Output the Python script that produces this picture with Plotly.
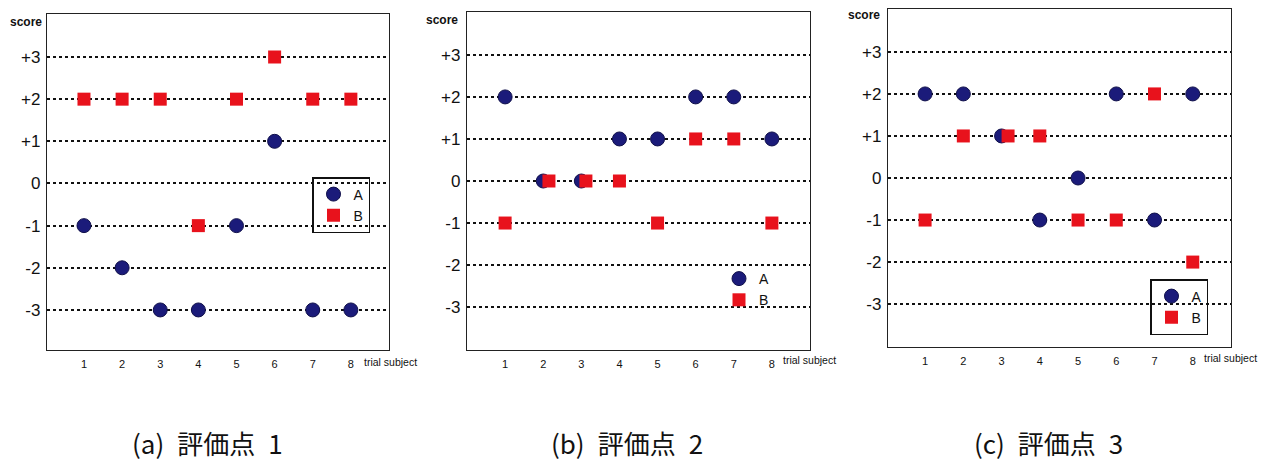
import plotly.graph_objects as go

subjects = [1, 2, 3, 4, 5, 6, 7, 8]
y_tick_vals = [-3, -2, -1, 0, 1, 2, 3]
y_tick_text = ["-3", "-2", "-1", "0", "+1", "+2", "+3"]
panel_titles = ["(a)\u2002評価点\u20021", "(b)\u2002評価点\u20022", "(c)\u2002評価点\u20023"]

# panel (a)
a1_x = [1, 2, 3, 4, 5, 6, 7, 8]
a1_y = [-1, -2, -3, -3, -1, 1, -3, -3]
b1_x = [1, 2, 3, 4, 5, 6, 7, 8]
b1_y = [2, 2, 2, -1, 2, 3, 2, 2]
# panel (b)
a2_x = [1, 2, 3, 4, 5, 6, 7, 8]
a2_y = [2, 0, 0, 1, 1, 2, 2, 1]
b2_x = [1, 2.15, 3.12, 4, 5, 6, 7, 8]
b2_y = [-1, 0, 0, 0, -1, 1, 1, -1]
# panel (c)
a3_x = [1, 2, 3, 4, 5, 6, 7, 8]
a3_y = [2, 2, 1, -1, 0, 2, -1, 2]
b3_x = [1, 2, 3.17, 4, 5, 6, 7, 8]
b3_y = [-1, 1, 1, 1, -1, -1, 2, -2]

COL_A = "#1b1b7a"
COL_B = "#e8121c"
W, H = 1269, 463
FONT = "Liberation Sans, Arial, sans-serif"

# panel geometry in pixels (left, right, top, bottom)
panels = [(47, 389, 14, 350), (467, 810, 12, 350), (888, 1231, 9, 347)]
yranges = [[-3.95, 4.02], [-4.02, 4.02], [-4.02, 4.02]]
xranges = [[0.03, 9.0], [0.0, 9.0], [0.03, 9.0]]

fig = go.Figure()

data = [(a1_x, a1_y, b1_x, b1_y), (a2_x, a2_y, b2_x, b2_y), (a3_x, a3_y, b3_x, b3_y)]
legend_names = ["legend", "legend2", "legend3"]

for i, (ax_, ay_, bx_, by_) in enumerate(data):
    sfx = "" if i == 0 else str(i + 1)
    fig.add_trace(go.Scatter(
        x=ax_, y=ay_, mode="markers", name="A",
        marker=dict(symbol="circle", size=14, color=COL_A, line=dict(color="#10104a", width=1)),
        xaxis="x" + sfx, yaxis="y" + sfx, legend=legend_names[i]))
    fig.add_trace(go.Scatter(
        x=bx_, y=by_, mode="markers", name="B",
        marker=dict(symbol="square", size=13, color=COL_B, line=dict(width=0)),
        xaxis="x" + sfx, yaxis="y" + sfx, legend=legend_names[i]))

layout = dict(
    width=W, height=H,
    margin=dict(l=0, r=0, t=0, b=0),
    paper_bgcolor="white", plot_bgcolor="white",
    font=dict(family=FONT, color="#111"),
)

for i, (l, r, t, b) in enumerate(panels):
    sfx = "" if i == 0 else str(i + 1)
    layout["xaxis" + sfx] = dict(
        domain=[l / W, r / W], range=xranges[i], anchor="y" + sfx,
        tickvals=subjects, ticktext=[str(s) for s in subjects],
        showgrid=False, zeroline=False,
        showline=True, mirror=True, linecolor="#222", linewidth=1.3,
        ticks="", ticklabelstandoff=4,
        tickfont=dict(family=FONT, size=11, color="#111"),
    )
    layout["yaxis" + sfx] = dict(
        domain=[1 - b / H, 1 - t / H], range=yranges[i], anchor="x" + sfx,
        tickvals=y_tick_vals, ticktext=y_tick_text,
        showgrid=True, gridcolor="#111", gridwidth=1.6, griddash="dot",
        zeroline=False,
        showline=True, mirror=True, linecolor="#222", linewidth=1.3,
        ticks="", ticklabelstandoff=2,
        tickfont=dict(family=FONT, size=17, color="#111"),
    )

# legends
leg_common = dict(
    font=dict(family=FONT, size=14, color="#111"),
    itemwidth=30, tracegroupgap=0, bgcolor="rgba(255,255,255,0)",
    xanchor="left", yanchor="top", orientation="v",
)
layout["legend"] = dict(leg_common, x=312 / W, y=1 - 177 / H,
                        bordercolor="#111", borderwidth=1.5)
layout["legend2"] = dict(leg_common, x=719 / W, y=1 - 263 / H, borderwidth=0)
layout["legend3"] = dict(leg_common, x=1150 / W, y=1 - 279 / H,
                         bordercolor="#111", borderwidth=1.5)

annotations = []
score_pos = [(26, 22), (442, 20), (864, 15)]
trial_right = [(419, 362), (838, 360), (1259, 358)]
title_pos = [207, 627, 1048]
for i in range(3):
    annotations.append(dict(
        text="<b>score</b>", x=score_pos[i][0] / W, y=1 - score_pos[i][1] / H,
        xref="paper", yref="paper", showarrow=False, xanchor="center", yanchor="middle",
        font=dict(family=FONT, size=12, color="#111")))
    annotations.append(dict(
        text="trial subject", x=trial_right[i][0] / W, y=1 - trial_right[i][1] / H,
        xref="paper", yref="paper", showarrow=False, xanchor="right", yanchor="middle",
        font=dict(family=FONT, size=10.5, color="#111")))
    annotations.append(dict(
        text=panel_titles[i], x=title_pos[i] / W, y=1 - 442 / H,
        xref="paper", yref="paper", showarrow=False, xanchor="center", yanchor="middle",
        borderpad=0,
        font=dict(family="Noto Sans CJK JP", size=26, color="#111")))
layout["annotations"] = annotations
layout["showlegend"] = True

fig.update_layout(**layout)
fig.write_html("out.html",
               config={"displayModeBar": False},
               post_script="document.body.style.margin='0px';document.body.style.overflow='hidden';")
